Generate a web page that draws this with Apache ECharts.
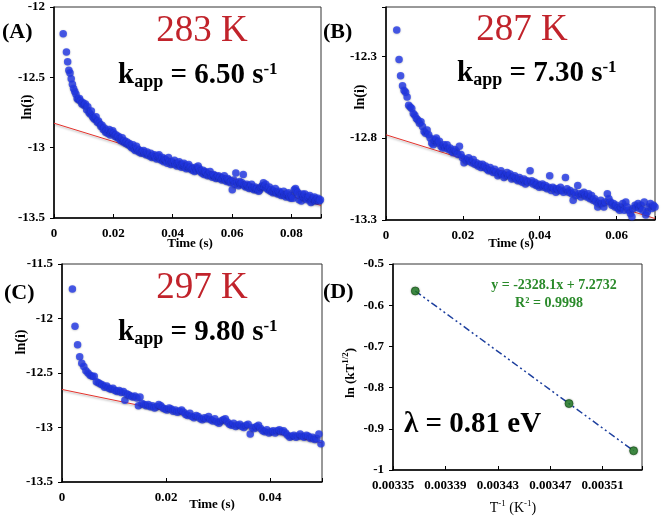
<!DOCTYPE html>
<html>
<head>
<meta charset="utf-8">
<script src="https://cdn.jsdelivr.net/npm/echarts@6/dist/echarts.min.js"></script>
<style>
html,body{margin:0;padding:0;background:#fff;}
#chart{width:661px;height:517px;}
</style>
</head>
<body>
<div id="chart"></div>
<script>
// ---------------- DATA ----------------
var pointsA = [
[0.0031,-12.19],[0.0042,-12.32],[0.0046,-12.39],[0.0050,-12.45],[0.0054,-12.47],[0.0058,-12.51],[0.0062,-12.55],[0.0066,-12.58],
[0.0070,-12.60],[0.0074,-12.62],[0.0078,-12.65],[0.0082,-12.66],[0.0086,-12.65],[0.0090,-12.67],[0.0094,-12.69],[0.0098,-12.68],
[0.0102,-12.70],[0.0106,-12.69],[0.0110,-12.73],[0.0114,-12.71],[0.0118,-12.75],[0.0122,-12.76],[0.0126,-12.74],[0.0130,-12.78],
[0.0134,-12.79],[0.0138,-12.80],[0.0142,-12.78],[0.0146,-12.82],[0.0150,-12.81],[0.0154,-12.83],[0.0158,-12.85],[0.0162,-12.84],
[0.0166,-12.87],[0.0170,-12.86],[0.0174,-12.89],[0.0178,-12.88],[0.0182,-12.90],[0.0186,-12.87],[0.0190,-12.91],[0.0194,-12.89],
[0.0198,-12.88],[0.0202,-12.90],[0.0206,-12.92],[0.0210,-12.91],[0.0214,-12.93],[0.0218,-12.92],[0.0222,-12.94],[0.0226,-12.95],
[0.0230,-12.93],[0.0234,-12.96],[0.0238,-12.95],[0.0242,-12.97],[0.0246,-12.96],[0.0250,-12.98],[0.0254,-12.97],[0.0258,-12.99],
[0.0262,-13.00],[0.0266,-12.98],[0.0270,-13.01],[0.0274,-13.02],[0.0278,-12.99],[0.0282,-13.01],[0.0286,-13.03],[0.0290,-13.02],
[0.0294,-13.04],[0.0298,-13.03],[0.0302,-13.02],[0.0306,-13.04],[0.0310,-13.05],[0.0314,-13.03],[0.0318,-13.05],[0.0322,-13.06],
[0.0326,-13.04],[0.0330,-13.07],[0.0334,-13.06],[0.0338,-13.05],[0.0342,-13.07],[0.0346,-13.08],[0.0350,-13.06],[0.0354,-13.05],
[0.0358,-13.08],[0.0362,-13.09],[0.0366,-13.07],[0.0370,-13.10],[0.0374,-13.08],[0.0378,-13.09],[0.0382,-13.11],[0.0386,-13.07],
[0.0390,-13.10],[0.0394,-13.12],[0.0398,-13.10],[0.0402,-13.11],[0.0406,-13.09],[0.0410,-13.12],[0.0414,-13.13],[0.0418,-13.11],
[0.0422,-13.10],[0.0426,-13.13],[0.0430,-13.14],[0.0434,-13.12],[0.0438,-13.11],[0.0442,-13.14],[0.0446,-13.15],[0.0450,-13.13],
[0.0454,-13.12],[0.0458,-13.15],[0.0462,-13.14],[0.0466,-13.16],[0.0470,-13.15],[0.0474,-13.17],[0.0478,-13.14],[0.0482,-13.16],
[0.0486,-13.13],[0.0490,-13.15],[0.0494,-13.17],[0.0498,-13.18],[0.0502,-13.16],[0.0506,-13.19],[0.0510,-13.17],[0.0514,-13.18],
[0.0518,-13.20],[0.0522,-13.19],[0.0526,-13.17],[0.0530,-13.20],[0.0534,-13.21],[0.0538,-13.19],[0.0542,-13.20],[0.0546,-13.22],
[0.0550,-13.21],[0.0554,-13.20],[0.0558,-13.22],[0.0562,-13.21],[0.0566,-13.23],[0.0570,-13.22],[0.0574,-13.20],[0.0578,-13.23],
[0.0582,-13.24],[0.0586,-13.22],[0.0590,-13.23],[0.0594,-13.25],[0.0598,-13.24],[0.0601,-13.30],[0.0606,-13.23],[0.0610,-13.26],
[0.0613,-13.18],[0.0618,-13.25],[0.0622,-13.27],[0.0626,-13.24],[0.0630,-13.26],[0.0634,-13.25],[0.0638,-13.19],[0.0642,-13.27],
[0.0646,-13.28],[0.0650,-13.26],[0.0654,-13.27],[0.0658,-13.29],[0.0662,-13.28],[0.0666,-13.26],[0.0670,-13.29],[0.0674,-13.30],
[0.0678,-13.28],[0.0682,-13.30],[0.0686,-13.29],[0.0690,-13.31],[0.0694,-13.30],[0.0698,-13.28],[0.0702,-13.27],[0.0706,-13.25],
[0.0710,-13.28],[0.0714,-13.26],[0.0718,-13.29],[0.0722,-13.30],[0.0726,-13.28],[0.0730,-13.31],[0.0734,-13.30],[0.0738,-13.32],
[0.0742,-13.31],[0.0746,-13.29],[0.0750,-13.32],[0.0754,-13.33],[0.0758,-13.31],[0.0762,-13.32],[0.0766,-13.34],[0.0770,-13.33],
[0.0774,-13.31],[0.0778,-13.34],[0.0782,-13.35],[0.0786,-13.33],[0.0790,-13.32],[0.0794,-13.35],[0.0798,-13.36],[0.0802,-13.34],
[0.0806,-13.36],[0.0810,-13.30],[0.0814,-13.29],[0.0818,-13.31],[0.0822,-13.32],[0.0826,-13.37],[0.0830,-13.34],[0.0834,-13.38],
[0.0838,-13.33],[0.0842,-13.35],[0.0846,-13.33],[0.0850,-13.36],[0.0854,-13.37],[0.0858,-13.35],[0.0862,-13.34],[0.0866,-13.39],
[0.0870,-13.38],[0.0874,-13.36],[0.0878,-13.35],[0.0882,-13.38],[0.0886,-13.37],[0.0890,-13.36],[0.0894,-13.38],[0.0898,-13.37]
];
var fitA = [[0, -12.826], [0.09, -13.411]];

var pointsB = [
[0.0028,-12.14],[0.0034,-12.32],[0.0038,-12.42],[0.0043,-12.48],[0.0047,-12.51],[0.0051,-12.52],[0.0055,-12.55],[0.0059,-12.60],
[0.0063,-12.61],[0.0067,-12.62],[0.0071,-12.65],[0.0075,-12.66],[0.0079,-12.68],[0.0083,-12.69],[0.0087,-12.71],[0.0091,-12.70],
[0.0095,-12.73],[0.0099,-12.76],[0.0103,-12.77],[0.0107,-12.75],[0.0111,-12.78],[0.0115,-12.80],[0.0119,-12.83],[0.0123,-12.84],
[0.0127,-12.81],[0.0131,-12.80],[0.0135,-12.83],[0.0139,-12.82],[0.0143,-12.85],[0.0147,-12.86],[0.0151,-12.84],[0.0155,-12.86],
[0.0159,-12.84],[0.0163,-12.87],[0.0167,-12.86],[0.0171,-12.88],[0.0175,-12.89],[0.0179,-12.87],[0.0183,-12.88],[0.0187,-12.90],
[0.0191,-12.85],[0.0195,-12.90],[0.0199,-12.92],[0.0203,-12.95],[0.0207,-12.93],[0.0211,-12.94],[0.0215,-12.92],[0.0219,-12.94],
[0.0223,-12.95],[0.0227,-12.93],[0.0231,-12.96],[0.0235,-12.95],[0.0239,-12.97],[0.0243,-12.96],[0.0247,-12.98],[0.0251,-12.96],
[0.0255,-12.98],[0.0259,-12.97],[0.0263,-12.99],[0.0267,-13.00],[0.0271,-12.98],[0.0275,-13.00],[0.0279,-13.01],[0.0283,-12.99],
[0.0287,-13.01],[0.0291,-13.03],[0.0295,-13.02],[0.0299,-13.00],[0.0303,-13.02],[0.0307,-13.04],[0.0311,-13.03],[0.0315,-13.01],
[0.0319,-13.03],[0.0323,-13.02],[0.0327,-13.05],[0.0331,-13.04],[0.0335,-13.03],[0.0339,-13.05],[0.0343,-13.06],[0.0347,-13.04],
[0.0351,-13.06],[0.0355,-13.07],[0.0359,-13.05],[0.0363,-13.08],[0.0367,-13.06],[0.0371,-13.07],[0.0375,-13.00],[0.0379,-13.06],
[0.0383,-13.08],[0.0387,-13.07],[0.0391,-13.09],[0.0395,-13.08],[0.0399,-13.10],[0.0403,-13.09],[0.0407,-13.08],[0.0411,-13.10],
[0.0415,-13.09],[0.0419,-13.11],[0.0423,-13.10],[0.0426,-13.03],[0.0430,-13.12],[0.0434,-13.10],[0.0438,-13.11],[0.0442,-13.13],
[0.0446,-13.11],[0.0450,-13.12],[0.0454,-13.10],[0.0458,-13.12],[0.0462,-13.13],[0.0467,-13.04],[0.0471,-13.11],[0.0475,-13.13],
[0.0479,-13.12],[0.0483,-13.14],[0.0487,-13.18],[0.0491,-13.13],[0.0495,-13.15],[0.0499,-13.09],[0.0503,-13.14],[0.0507,-13.16],
[0.0511,-13.14],[0.0515,-13.13],[0.0519,-13.15],[0.0523,-13.16],[0.0527,-13.14],[0.0531,-13.17],[0.0535,-13.15],[0.0539,-13.18],
[0.0543,-13.17],[0.0547,-13.19],[0.0551,-13.22],[0.0555,-13.20],[0.0559,-13.18],[0.0563,-13.20],[0.0567,-13.22],[0.0571,-13.19],
[0.0576,-13.14],[0.0580,-13.17],[0.0584,-13.19],[0.0588,-13.21],[0.0592,-13.20],[0.0596,-13.22],[0.0600,-13.21],[0.0604,-13.23],
[0.0608,-13.24],[0.0612,-13.22],[0.0616,-13.20],[0.0620,-13.24],[0.0624,-13.19],[0.0628,-13.22],[0.0632,-13.24],[0.0636,-13.26],
[0.0640,-13.28],[0.0644,-13.23],[0.0648,-13.21],[0.0652,-13.22],[0.0656,-13.20],[0.0660,-13.23],[0.0664,-13.21],[0.0668,-13.24],
[0.0672,-13.19],[0.0676,-13.27],[0.0680,-13.25],[0.0684,-13.22],[0.0688,-13.20],[0.0692,-13.23],[0.0696,-13.21],[0.0700,-13.22]
];
var fitB = [[0, -12.78], [0.07, -13.291]];

var pointsC = [
[0.0020,-11.73],[0.0025,-12.07],[0.0030,-12.24],[0.0034,-12.35],[0.0038,-12.41],[0.0042,-12.44],[0.0046,-12.48],[0.0050,-12.50],
[0.0054,-12.52],[0.0058,-12.53],[0.0062,-12.53],[0.0066,-12.58],[0.0070,-12.59],[0.0074,-12.60],[0.0078,-12.61],[0.0082,-12.63],
[0.0086,-12.62],[0.0090,-12.64],[0.0094,-12.65],[0.0098,-12.64],[0.0102,-12.66],[0.0106,-12.67],[0.0110,-12.66],[0.0114,-12.68],
[0.0118,-12.67],[0.0121,-12.75],[0.0124,-12.69],[0.0128,-12.70],[0.0132,-12.71],[0.0136,-12.72],[0.0140,-12.71],[0.0144,-12.73],
[0.0147,-12.80],[0.0150,-12.72],[0.0154,-12.78],[0.0158,-12.79],[0.0162,-12.80],[0.0166,-12.79],[0.0170,-12.81],[0.0174,-12.80],
[0.0178,-12.82],[0.0182,-12.81],[0.0186,-12.79],[0.0190,-12.80],[0.0194,-12.82],[0.0198,-12.83],[0.0202,-12.84],[0.0206,-12.82],
[0.0210,-12.83],[0.0214,-12.85],[0.0218,-12.84],[0.0222,-12.86],[0.0226,-12.85],[0.0230,-12.84],[0.0234,-12.86],[0.0238,-12.88],
[0.0242,-12.89],[0.0246,-12.87],[0.0250,-12.90],[0.0254,-12.91],[0.0258,-12.89],[0.0262,-12.90],[0.0266,-12.92],[0.0270,-12.93],
[0.0274,-12.91],[0.0278,-12.92],[0.0282,-12.90],[0.0286,-12.93],[0.0290,-12.94],[0.0294,-12.92],[0.0298,-12.95],[0.0302,-12.96],
[0.0306,-12.94],[0.0310,-12.93],[0.0314,-12.92],[0.0318,-12.95],[0.0322,-12.97],[0.0326,-12.98],[0.0330,-12.96],[0.0334,-12.99],
[0.0338,-12.98],[0.0342,-12.97],[0.0346,-12.99],[0.0350,-13.00],[0.0354,-12.98],[0.0358,-12.97],[0.0362,-13.06],[0.0366,-13.00],
[0.0370,-13.01],[0.0374,-12.99],[0.0378,-12.98],[0.0382,-13.01],[0.0386,-13.03],[0.0390,-13.04],[0.0394,-13.02],[0.0398,-13.05],
[0.0402,-13.04],[0.0406,-13.03],[0.0410,-13.05],[0.0414,-13.03],[0.0418,-13.02],[0.0422,-13.04],[0.0426,-13.03],[0.0430,-13.05],
[0.0434,-13.07],[0.0438,-13.09],[0.0442,-13.08],[0.0446,-13.07],[0.0450,-13.09],[0.0454,-13.08],[0.0458,-13.06],[0.0462,-13.08],
[0.0466,-13.09],[0.0470,-13.07],[0.0474,-13.08],[0.0478,-13.10],[0.0482,-13.09],[0.0486,-13.11],[0.0490,-13.10],[0.0494,-13.06],
[0.0498,-13.15]
];
var fitC = [[0, -12.651], [0.05, -13.141]];

var invTempD = [0.0033670, 0.0034843, 0.0035336];
var lnKTD = [-0.5655, -0.8387, -0.9533];

var ticksXA = ['0', '0.02', '0.04', '0.06', '0.08'];
var ticksYA = ['-13.5', '-13', '-12.5', '-12'];
var ticksXB = ['0', '0.02', '0.04', '0.06'];
var ticksYB = ['-13.3', '-12.8', '-12.3'];
var ticksXC = ['0', '0.02', '0.04'];
var ticksYC = ['-13.5', '-13', '-12.5', '-12', '-11.5'];
var ticksXD = ['0.00335', '0.00339', '0.00343', '0.00347', '0.00351'];
var ticksYD = ['-1', '-0.9', '-0.8', '-0.7', '-0.6', '-0.5'];

// ---------------- CHART ----------------
var SERIF = '"Liberation Serif", "DejaVu Serif", serif';
var chart = echarts.init(document.getElementById('chart'), null, {renderer: 'canvas'});

function fmt(list) {
  return function (v) {
    for (var i = 0; i < list.length; i++) {
      if (Math.abs(parseFloat(list[i]) - v) < 1e-9) return list[i];
    }
    return '';
  };
}
function xAxis(gi, min, max, interval, list, size) {
  return {
    gridIndex: gi, type: 'value', min: min, max: max, interval: interval,
    axisLine: {show: true, onZero: false, lineStyle: {color: '#000', width: 1.5}},
    axisTick: {show: true, inside: true, length: 4, lineStyle: {color: '#000'}},
    axisLabel: {formatter: fmt(list), fontFamily: SERIF, fontWeight: 'bold', fontSize: size || 13, color: '#000', margin: 9, showMinLabel: true, showMaxLabel: true},
    splitLine: {show: false}
  };
}
function yAxis(gi, min, max, interval, list, size) {
  return {
    gridIndex: gi, type: 'value', min: min, max: max, interval: interval,
    axisLine: {show: true, onZero: false, lineStyle: {color: '#000', width: 1.5}},
    axisTick: {show: true, inside: false, length: 4, lineStyle: {color: '#000'}},
    axisLabel: {formatter: fmt(list), fontFamily: SERIF, fontWeight: 'bold', fontSize: size || 13, color: '#000', margin: 9, showMinLabel: true, showMaxLabel: true},
    splitLine: {show: false}
  };
}
var gridBase = {show: true, borderColor: '#333', borderWidth: 1, backgroundColor: 'transparent', containLabel: false};
var dotStyle = {color: '#2238e8', shadowColor: 'rgba(0,0,0,0.3)', shadowBlur: 2, shadowOffsetY: 0.5};
var fitStyle = {color: '#e5322c', width: 1, shadowColor: 'rgba(0,0,0,0.3)', shadowBlur: 2, shadowOffsetY: 1.5};

function kappText(val, x, y) {
  return {
    type: 'text', x: x, y: y, z: 100,
    style: {
      text: '{m|k}{sub|app}{m| = ' + val + ' s}{sup|-1}',
      align: 'left', verticalAlign: 'top',
      rich: {
        m: {fontFamily: SERIF, fontWeight: 'bold', fontSize: 29, lineHeight: 30, verticalAlign: 'top', padding: [0, 0, 2, 0], fill: '#000'},
        sub: {fontFamily: SERIF, fontWeight: 'bold', fontSize: 18, lineHeight: 16, verticalAlign: 'bottom', fill: '#000'},
        sup: {fontFamily: SERIF, fontWeight: 'bold', fontSize: 17, lineHeight: 15, verticalAlign: 'top', fill: '#000'}
      }
    }
  };
}
function plainText(txt, x, y, size, weight, color, align) {
  return {
    type: 'text', x: x, y: y, z: 100,
    style: {text: txt, font: (weight || 'normal') + ' ' + size + 'px ' + SERIF, fill: color || '#000', align: align || 'center', verticalAlign: 'middle'}
  };
}
function vertText(txt, x, y, size) {
  return {
    type: 'text', x: x, y: y, rotation: Math.PI / 2, z: 100,
    style: {text: txt, font: 'bold ' + size + 'px ' + SERIF, fill: '#000', align: 'center', verticalAlign: 'middle'}
  };
}

var pointsD = invTempD.map(function (x, i) { return [x, lnKTD[i]]; });

var option = {
  animation: false,
  backgroundColor: '#fff',
  grid: [
    Object.assign({left: 54, top: 7, width: 267, height: 211}, gridBase),
    Object.assign({left: 386, top: 7, width: 269, height: 213}, gridBase),
    Object.assign({left: 62, top: 264, width: 260, height: 218}, gridBase),
    Object.assign({left: 393, top: 264, width: 249, height: 206}, gridBase)
  ],
  xAxis: [
    xAxis(0, 0, 0.09, 0.02, ticksXA),
    xAxis(1, 0, 0.07, 0.02, ticksXB),
    xAxis(2, 0, 0.05, 0.02, ticksXC),
    xAxis(3, 0.00335, 0.00354, 0.00004, ticksXD, 13)
  ],
  yAxis: [
    yAxis(0, -13.5, -12, 0.5, ticksYA),
    yAxis(1, -13.3, -12.0, 0.5, ticksYB),
    yAxis(2, -13.5, -11.5, 0.5, ticksYC),
    yAxis(3, -1, -0.5, 0.1, ticksYD, 13)
  ],
  series: [
    {type: 'line', xAxisIndex: 0, yAxisIndex: 0, data: fitA, symbol: 'none', lineStyle: fitStyle, z: 2},
    {type: 'scatter', xAxisIndex: 0, yAxisIndex: 0, data: pointsA, symbolSize: 7.5, itemStyle: dotStyle, z: 3},
    {type: 'line', xAxisIndex: 1, yAxisIndex: 1, data: fitB, symbol: 'none', lineStyle: fitStyle, z: 2},
    {type: 'scatter', xAxisIndex: 1, yAxisIndex: 1, data: pointsB, symbolSize: 7.5, itemStyle: dotStyle, z: 3},
    {type: 'line', xAxisIndex: 2, yAxisIndex: 2, data: fitC, symbol: 'none', lineStyle: fitStyle, z: 2},
    {type: 'scatter', xAxisIndex: 2, yAxisIndex: 2, data: pointsC, symbolSize: 7.5, itemStyle: dotStyle, z: 3},
    {type: 'line', xAxisIndex: 3, yAxisIndex: 3, data: pointsD, symbol: 'none',
      lineStyle: {color: '#1d3f9e', width: 1.5, type: [7, 3, 2, 3, 2, 3]}, z: 2},
    {type: 'scatter', xAxisIndex: 3, yAxisIndex: 3, data: pointsD, symbolSize: 8,
      itemStyle: {color: '#1f7d24', borderColor: '#0f4f12', borderWidth: 0.8, shadowColor: 'rgba(0,0,0,0.35)', shadowBlur: 2}, z: 3}
  ],
  graphic: [
    plainText('(A)', 2, 32, 22, 'bold', '#000', 'left'),
    plainText('(B)', 323, 32, 22, 'bold', '#000', 'left'),
    plainText('(C)', 4, 293, 22, 'bold', '#000', 'left'),
    plainText('(D)', 323, 292, 22, 'bold', '#000', 'left'),
    plainText('283 K', 202, 31, 37, 'normal', '#c1232b'),
    plainText('287 K', 522, 30, 37, 'normal', '#c1232b'),
    plainText('297 K', 202, 288, 37, 'normal', '#c1232b'),
    kappText('6.50', 118, 61),
    kappText('7.30', 457, 59),
    kappText('9.80', 118, 318),
    vertText('ln(i)', 27, 107, 14),
    vertText('ln(i)', 360, 97, 14),
    vertText('ln(i)', 21, 342, 14),
    {
      type: 'text', x: 349, y: 373, rotation: Math.PI / 2, z: 100,
      style: {
        text: '{m|ln (kT}{s|1/2}{m|)}', align: 'center', verticalAlign: 'middle',
        rich: {
          m: {fontFamily: SERIF, fontWeight: 'bold', fontSize: 13, lineHeight: 16, verticalAlign: 'bottom', fill: '#000'},
          s: {fontFamily: SERIF, fontWeight: 'bold', fontSize: 9, lineHeight: 10, verticalAlign: 'top', fill: '#000'}
        }
      }
    },
    plainText('Time (s)', 190, 244, 13, 'bold'),
    plainText('Time (s)', 511, 244, 13, 'bold'),
    plainText('Time (s)', 212, 505, 13, 'bold'),
    {
      type: 'text', x: 513, y: 507, z: 100,
      style: {
        text: '{m|T}{s|-1}{m| (K}{s|-1}{m|)}', align: 'center', verticalAlign: 'middle',
        rich: {
          m: {fontFamily: SERIF, fontSize: 14, lineHeight: 16, verticalAlign: 'bottom', fill: '#000'},
          s: {fontFamily: SERIF, fontSize: 9, lineHeight: 10, verticalAlign: 'top', fill: '#000'}
        }
      }
    },
    plainText('y = -2328.1x + 7.2732', 554, 285, 14, 'bold', '#2a8a2a'),
    plainText('R\u00b2 = 0.9998', 549, 303, 14, 'bold', '#2a8a2a'),
    plainText('\u03bb = 0.81 eV', 404, 425, 29, 'bold', '#000', 'left')
  ]
};
chart.setOption(option);
</script>
</body>
</html>
